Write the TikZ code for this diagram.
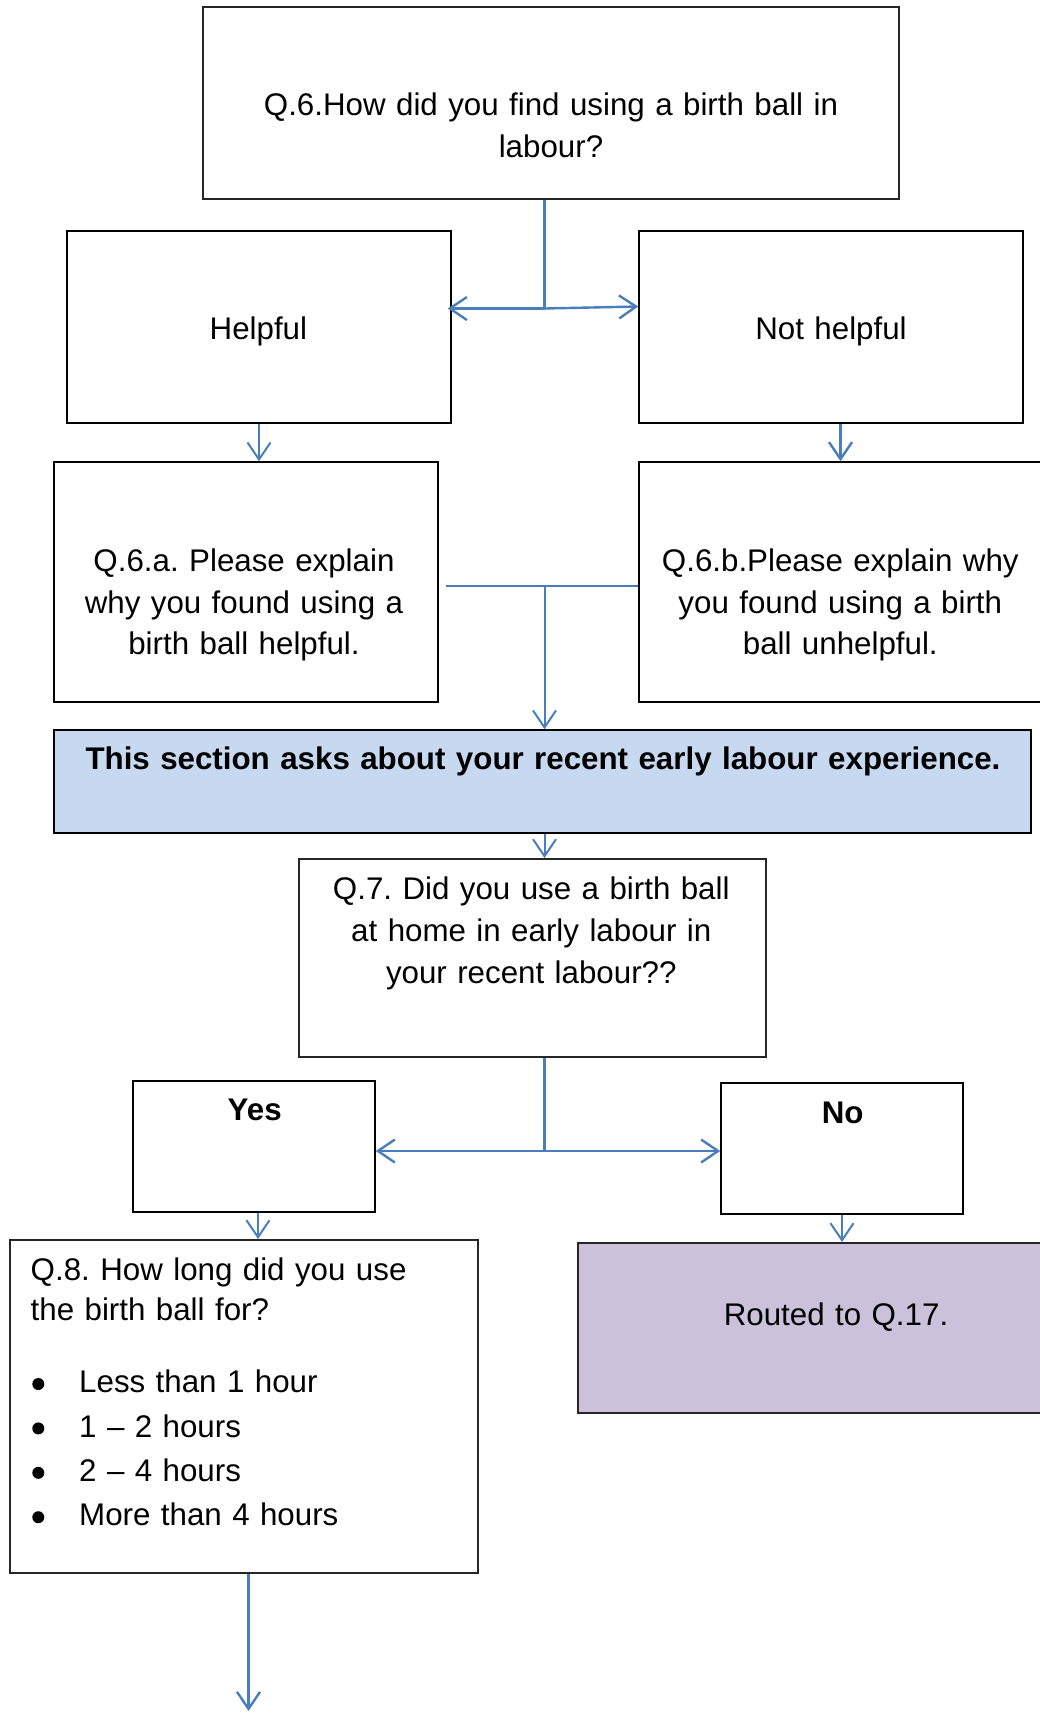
\documentclass[tikz,border=0pt]{standalone}
\usepackage{fontspec}
\setmainfont{Liberation Sans}
\usetikzlibrary{arrows.meta}
\definecolor{connblue}{HTML}{4A7EBB}
\definecolor{sectfill}{HTML}{C6D9F1}
\definecolor{routefill}{HTML}{CCC1DA}
\frenchspacing
\begin{document}
\begin{tikzpicture}[x=1pt,y=-1pt,
  box/.style={draw=black, line width=1.5pt, inner sep=0pt},
  heavybox/.style={draw=black!85, line width=2pt, inner sep=0pt},
  txt/.style={font=\fontsize{31.3}{41.6}\selectfont, inner sep=0pt, anchor=base, align=center, text width=#1},
  btxt/.style={font=\fontsize{31.3}{41.6}\selectfont\bfseries, inner sep=0pt, anchor=base, align=center, text width=#1},
  conn/.style={draw=connblue, line width=2.4pt},
  thinconn/.style={draw=connblue, line width=2pt},
  tip/.style={-{Straight Barb[length=17pt,width=23pt]}}
]
\useasboundingbox (0,0) rectangle (1040,1713);
\clip (0,0) rectangle (1040,1713);

% boxes
\node[heavybox, minimum width=696pt, minimum height=192pt] (q6) at (551,103) {};
\node[box, minimum width=384pt, minimum height=192pt] (help) at (259,327) {};
\node[box, minimum width=384pt, minimum height=192pt] (nohelp) at (831,327) {};
\node[box, minimum width=384pt, minimum height=240pt] (q6a) at (246,582) {};
\node[box, minimum width=403pt, minimum height=240pt] (q6b) at (840.5,582) {};
\node[box, fill=sectfill, minimum width=977pt, minimum height=103pt] (sect) at (542.5,781.5) {};
\node[heavybox, minimum width=467pt, minimum height=198pt] (q7) at (532.5,958) {};
\node[box, minimum width=242pt, minimum height=131pt] (yes) at (254,1146.5) {};
\node[box, minimum width=242pt, minimum height=131pt] (no) at (842,1148.5) {};
\node[heavybox, minimum width=468pt, minimum height=333pt] (q8) at (244,1406.5) {};
\node[heavybox, fill=routefill, minimum width=468pt, minimum height=170pt] (routed) at (812,1328) {};

% texts
\node[txt=680pt] (t6) at (551,115.7) {Q.6.How did you find using a birth ball in\\labour?};
\node[txt=370pt] (th) at (258.4,339.3) {Helpful};
\node[txt=370pt] (tnh) at (831,339.3) {Not helpful};
\node[txt=370pt] (t6a) at (244,571.7) {Q.6.a. Please explain\\why you found using a\\birth ball helpful.};
\node[txt=390pt] (t6b) at (840.3,571.7) {Q.6.b.Please explain why\\you found using a birth\\ball unhelpful.};
\node[btxt=960pt] (tsect) at (543,769.3) {This section asks about your recent early labour experience.};
\node[txt=450pt, font=\fontsize{31.3}{42}\selectfont] (t7) at (531.3,899.3) {Q.7. Did you use a birth ball\\at home in early labour in\\your recent labour??};
\node[btxt=200pt] (tyes) at (254.7,1120.7) {Yes};
\node[btxt=200pt] (tno) at (842.7,1123.3) {No};
\node[txt=440pt, font=\fontsize{31.3}{40.7}\selectfont, align=left, anchor=base west] (t8) at (30.5,1280) {Q.8. How long did you use\\the birth ball for?};
\node[txt=400pt, font=\fontsize{31.3}{44.4}\selectfont, align=left, anchor=base west] (t8list) at (79,1392.7) {Less than 1 hour\\1 – 2 hours\\2 – 4 hours\\More than 4 hours};
\foreach \by in {1384,1428.4,1472.8,1517.2}
  \fill[black] (38.3,\by) circle (6pt);
\node[txt=440pt] (trouted) at (836,1325.7) {Routed to Q.17.};

% connectors
\coordinate (j1) at (544.5,308.5);
\draw[conn] (j1 |- q6.south) -- (j1);
\draw[conn, tip] (j1) -- ([xshift=-4pt]j1 -| help.east);
\draw[conn, tip] (j1) -- ([yshift=2pt]j1 -| nohelp.west);
\draw[thinconn, tip] (help.south) -- (help.south |- q6a.north);
\draw[conn, tip] (q6b.north |- nohelp.south) -- (q6b.north);

\coordinate (j2) at (544.5,586);
\draw[thinconn] ([xshift=7pt]j2 -| q6a.east) -- (j2 -| q6b.west);
\draw[thinconn, tip] (j2) -- (j2 |- sect.north);
\draw[thinconn, tip] (sect.south -| j2) -- (j2 |- q7.north);

\coordinate (j3) at (544.5,1151);
\draw[conn] (j3 |- q7.south) -- (j3);
\draw[conn, tip] (j3) -- (j3 -| yes.east);
\draw[conn, tip] (j3) -- (j3 -| no.west);
\draw[thinconn, tip] ([xshift=4pt]yes.south) -- ([xshift=4pt]yes.south |- q8.north);
\draw[thinconn, tip] (no.south) -- (no.south |- routed.north);

\coordinate (endpt) at (248.5,1711);
\draw[conn, tip] (endpt |- q8.south) -- (endpt);
\end{tikzpicture}
\end{document}
